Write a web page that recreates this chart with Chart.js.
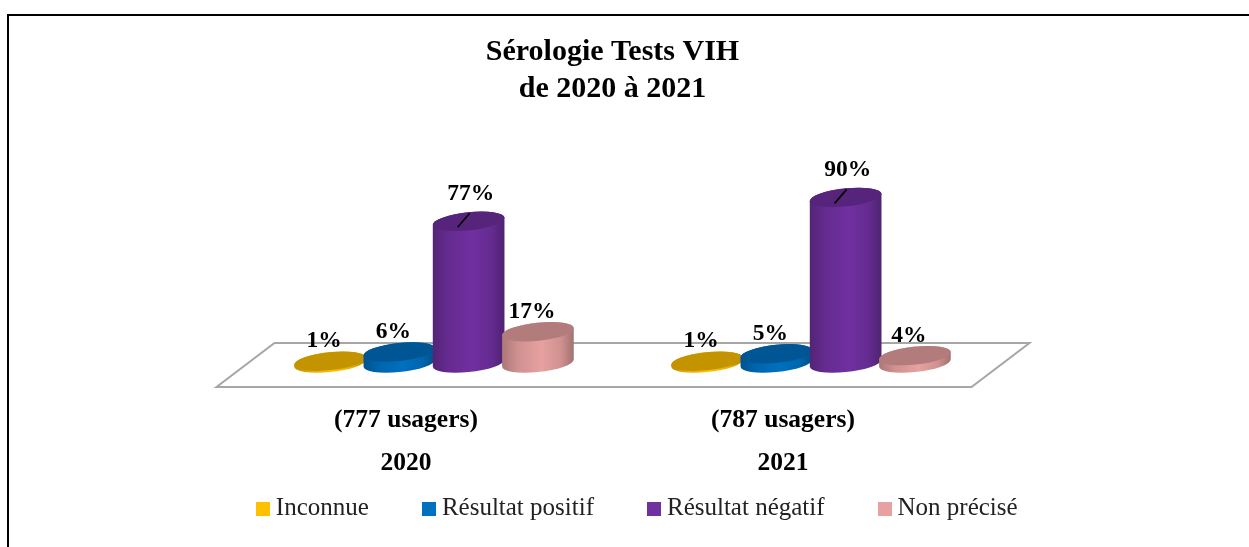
<!DOCTYPE html>
<html><head><meta charset="utf-8">
<style>html,body{margin:0;padding:0;background:#fff}#w{width:1249px;height:547px;position:relative}</style>
<script src="https://cdn.jsdelivr.net/npm/chart.js@4/dist/chart.umd.js"></script>
</head><body><div id="w"><canvas id="c" width="1249" height="547"></canvas></div>
<script>
const categories = [["(777 usagers)", "2020"], ["(787 usagers)", "2021"]];
const seriesNames = ["Inconnue", "Résultat positif", "Résultat négatif", "Non précisé"];
const inconnue = [1, 1];
const positif = [6, 5];
const negatif = [77, 90];
const nonPrecise = [17, 4];
const colors = ["#FFC000", "#0070C0", "#7030A0", "#E6A1A0"];
const seriesValues = [inconnue, positif, negatif, nonPrecise];
const FONT = '"Liberation Serif", serif';

function shade(hex, k) {
  const n = parseInt(hex.slice(1), 16);
  return `rgb(${Math.round((n >> 16) * k)},${Math.round(((n >> 8) & 255) * k)},${Math.round((n & 255) * k)})`;
}

// Bars keep Chart.js geometry (x, y, base, width); only the painting becomes a cylinder.
const TILT = -6 * Math.PI / 180;
function paintCylinder(ctx, el) {
  const col = el.options.backgroundColor;
  const a = el.width / 2, b = a * 0.25, cx = el.x, yt = el.y, yb = el.base;
  const t0 = Math.atan(-(b / a) * Math.tan(TILT));
  ctx.save();
  ctx.beginPath();
  ctx.ellipse(cx, yb, a, b, TILT, t0, t0 + Math.PI);
  ctx.ellipse(cx, yt, a, b, TILT, t0 + Math.PI, t0 + 2 * Math.PI);
  ctx.closePath();
  const g = ctx.createLinearGradient(cx - a, 0, cx + a, 0);
  g.addColorStop(0, shade(col, 0.74));
  g.addColorStop(0.22, shade(col, 0.9));
  g.addColorStop(0.55, col);
  g.addColorStop(0.82, shade(col, 0.9));
  g.addColorStop(1, shade(col, 0.7));
  ctx.fillStyle = g;
  ctx.fill();
  ctx.beginPath();
  ctx.ellipse(cx, yt, a, b, TILT, 0, 2 * Math.PI);
  ctx.fillStyle = shade(col, 0.77);
  ctx.fill();
  ctx.restore();
}

const cylinders = {
  id: 'cylinders',
  afterLayout(chart) {
    chart.titleBlock.left -= 12; chart.titleBlock.right -= 12;
    chart.legend.left += 15.5; chart.legend.right += 15.5;
    chart.scales.x.bottom = chart.height;
  },
  beforeDatasetsDraw(chart) {
    const { ctx, chartArea: A } = chart;
    ctx.save();
    ctx.strokeStyle = '#000'; ctx.lineWidth = 2;
    ctx.beginPath();
    ctx.moveTo(8, 547); ctx.lineTo(8, 15); ctx.lineTo(1249, 15);
    ctx.stroke();
    const yF = A.bottom + 24, yB = A.bottom - 20;
    ctx.strokeStyle = '#A6A6A6'; ctx.lineWidth = 2;
    ctx.beginPath();
    ctx.moveTo(A.left - 29, yF); ctx.lineTo(A.right - 28, yF);
    ctx.lineTo(A.right + 30, yB); ctx.lineTo(A.left + 29, yB); ctx.closePath();
    ctx.stroke();
    ctx.restore();
  },
  // Left-to-right overlap: each series is painted over the previous one.
  beforeDatasetDraw() { return false; },
  afterDatasetsDraw(chart) {
    const { ctx } = chart;
    chart.data.datasets.forEach((ds, i) => {
      chart.getDatasetMeta(i).data.forEach(el => paintCylinder(ctx, el));
    });
    ctx.save();
    ctx.textAlign = 'center'; ctx.textBaseline = 'middle';
    ctx.font = 'bold 23.5px ' + FONT;
    ctx.fillStyle = '#000';
    chart.data.datasets.forEach((ds, i) => {
      chart.getDatasetMeta(i).data.forEach((el, j) => {
        const tall = ds.data[j] > 50;
        ctx.fillText(ds.data[j] + '%', el.x + (tall ? 2 : -6), el.y - (tall ? 27 : 20));
        if (tall) {
          ctx.strokeStyle = '#000'; ctx.lineWidth = 1.6;
          ctx.beginPath(); ctx.moveTo(el.x - 11, el.y + 6); ctx.lineTo(el.x + 1, el.y - 8); ctx.stroke();
        }
      });
    });
    ctx.restore();
  }
};

function square(col) {
  const c = document.createElement('canvas'); c.width = 14; c.height = 14;
  const x = c.getContext('2d'); x.fillStyle = col; x.fillRect(0, 0, 14, 14);
  return c;
}

new Chart(document.getElementById('c'), {
  type: 'bar',
  data: {
    labels: categories,
    datasets: seriesNames.map((n, i) => ({
      label: n, data: seriesValues[i], backgroundColor: colors[i],
      clip: false, categoryPercentage: 0.735, barPercentage: 1.04
    }))
  },
  options: {
    responsive: false, animation: false,
    layout: { padding: { top: 34, bottom: 16 } },
    plugins: {
      tooltip: { enabled: false },
      title: {
        display: true, text: ["Sérologie Tests VIH", "de 2020 à 2021"], color: '#000',
        font: { family: FONT, size: 30, weight: 'bold', lineHeight: 1.233 },
        padding: { top: 0, bottom: 71 }
      },
      legend: {
        position: 'bottom',
        labels: {
          color: '#222', font: { family: FONT, size: 25 },
          usePointStyle: true, pointStyleWidth: 1, boxHeight: 14, padding: 59.5,
          generateLabels(chart) {
            return Chart.defaults.plugins.legend.labels.generateLabels(chart).map(it => {
              it.pointStyle = square(it.fillStyle); return it;
            });
          }
        }
      }
    },
    scales: {
      x: {
        grid: { display: false }, border: { display: false },
        afterFit(s) { s.height = 73.5; },
        ticks: { color: '#000', padding: 28, labelOffset: -28, maxRotation: 0, font: { family: FONT, size: 25.5, weight: 'bold', lineHeight: 1.686 } }
      },
      y: {
        min: 0, max: 100, grid: { display: false }, border: { display: false },
        ticks: { display: false }, afterFit(s) { s.width = 245.5; }
      },
      yRight: {
        position: 'right', min: 0, max: 100, grid: { display: false }, border: { display: false },
        ticks: { display: false }, afterFit(s) { s.width = 249.5; }
      }
    }
  },
  plugins: [cylinders]
});
</script></body></html>
